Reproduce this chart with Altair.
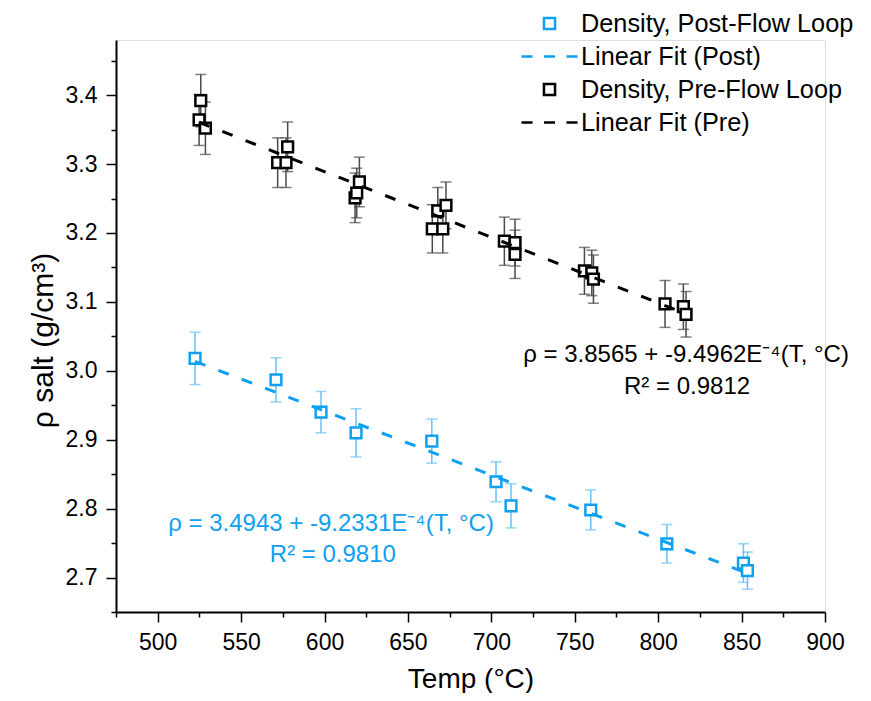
import altair as alt
import pandas as pd

FONT = "Liberation Sans"
BLUE = "#0FA0F2"
BLUE_ERR = "#66C3F7"
BLACK = "#000000"
GRAY_ERR = "#4A4A4A"

# ---- data ----
pre_T = [525.8, 524.8, 528.6, 571.9, 576.9, 577.9, 618.3, 619.3, 620.9, 664.6, 670.9,
         667.9, 672.8, 707.8, 714.2, 714.2, 755.8, 760.2, 761.2, 804.1, 815.1, 816.7]
pre_rho = [3.392, 3.364, 3.352, 3.302, 3.302, 3.325, 3.251, 3.258, 3.274, 3.206, 3.206,
           3.232, 3.240, 3.188, 3.186, 3.169, 3.145, 3.142, 3.133, 3.097, 3.093, 3.082]
pre_err = [0.038, 0.037, 0.038, 0.036, 0.036, 0.036, 0.036, 0.036, 0.036, 0.035, 0.035,
           0.034, 0.034, 0.035, 0.034, 0.035, 0.034, 0.033, 0.035, 0.034, 0.033, 0.033]

post_T = [522.4, 570.9, 597.9, 618.9, 664.3, 702.8, 711.8, 759.6, 805.2, 851.1, 853.5]
post_rho = [3.018, 2.987, 2.940, 2.910, 2.898, 2.839, 2.804, 2.798, 2.749, 2.721, 2.710]
post_err = [0.038, 0.032, 0.030, 0.035, 0.032, 0.029, 0.032, 0.029, 0.028, 0.028, 0.027]

legend_names = ["Density, Post-Flow Loop", "Linear Fit (Post)",
                "Density, Pre-Flow Loop", "Linear Fit (Pre)"]
legend_colors = [BLUE, BLUE, BLACK, BLACK]

ann_text = ["ρ = 3.8565 + -9.4962E⁻⁴(T, °C)", "R² = 0.9812",
            "ρ = 3.4943 + -9.2331E⁻⁴(T, °C)", "R² = 0.9810"]
ann_T = [816.7, 817.3, 603.9, 605.0]
ann_rho = [3.023, 2.977, 2.777, 2.732]
ann_color = [BLACK, BLACK, BLUE, BLUE]

x_major_ticks = [500, 550, 600, 650, 700, 750, 800, 850, 900]
x_minor_ticks = [475, 525, 575, 625, 675, 725, 775, 825, 875]
y_major_ticks = [2.7, 2.8, 2.9, 3.0, 3.1, 3.2, 3.3, 3.4]
y_minor_ticks = [2.65, 2.75, 2.85, 2.95, 3.05, 3.15, 3.25, 3.35, 3.45]

# ---- tables ----
rows = []
for t, r, e in zip(post_T, post_rho, post_err):
    rows.append(dict(T=t, rho=r, lo=r - e, hi=r + e, entry=legend_names[0],
                     fitname=legend_names[1], errcol=BLUE_ERR))
for t, r, e in zip(pre_T, pre_rho, pre_err):
    rows.append(dict(T=t, rho=r, lo=r - e, hi=r + e, entry=legend_names[2],
                     fitname=legend_names[3], errcol=GRAY_ERR))
df = pd.DataFrame(rows)
ann = pd.DataFrame(dict(text=ann_text, T=ann_T, rho=ann_rho, col=ann_color))

xscale = alt.Scale(domain=[475, 900], nice=False, zero=False)
yscale = alt.Scale(domain=[2.65, 3.48], nice=False, zero=False)
cscale = alt.Scale(domain=legend_names, range=legend_colors)

SQ = "M-0.37,-0.37H0.37V0.37H-0.37Z"
DASH = "M-1.87,0H-1.13M-0.37,0H0.37M1.13,0H1.87"
shscale = alt.Scale(domain=legend_names, range=[SQ, DASH, SQ, DASH])

common_axis = dict(grid=False, tickColor="black", tickWidth=1.5, labelFont=FONT,
                   labelColor="black", titleFont=FONT, titleColor="black",
                   titleFontWeight="normal")

x_major = alt.Axis(values=x_major_ticks, orient="bottom", title="Temp (°C)",
                   tickSize=10, domainColor="black", domainWidth=2,
                   labelFontSize=23, labelPadding=9, labelFlush=False,
                   titleFontSize=28, titleBaseline="alphabetic", titleY=75,
                   **common_axis)
y_major = alt.Axis(values=y_major_ticks, orient="left", format=".1f",
                   title="ρ salt (g/cm³)", tickSize=10, domainColor="black",
                   domainWidth=2, labelFontSize=23, labelPadding=9,
                   labelFlush=False, titleFontSize=30, titleX=-58, titleY=300,
                   titleBaseline="bottom", titleAlign="center",
                   **common_axis)
x_minor = alt.Axis(values=x_minor_ticks, orient="bottom", title=None, labels=False,
                   domain=False, tickSize=5, grid=False, tickColor="black", tickWidth=1.5)
y_minor = alt.Axis(values=y_minor_ticks, orient="left", title=None, labels=False,
                   domain=False, tickSize=5, grid=False, tickColor="black", tickWidth=1.5)

legend = alt.Legend(
    orient="none", legendX=417, legendY=-33, title=None, padding=0,
    symbolSize=900, symbolStrokeWidth=2.5,
    labelFont=FONT, labelFontSize=25.3, labelColor="black", labelOffset=15,
    rowPadding=3, labelLimit=400,
)

base = alt.Chart(df)

bars = base.mark_rule(strokeWidth=1.5).encode(
    x=alt.X("T:Q", scale=xscale, axis=x_major),
    y=alt.Y("lo:Q", scale=yscale, axis=y_major),
    y2="hi:Q",
    color=alt.Color("errcol:N", scale=None),
)
cap_lo = base.mark_tick(orient="horizontal", size=11, thickness=1.5).encode(
    x=alt.X("T:Q", scale=xscale, axis=None),
    y=alt.Y("lo:Q", scale=yscale, axis=None),
    color=alt.Color("errcol:N", scale=None),
)
cap_hi = base.mark_tick(orient="horizontal", size=11, thickness=1.5).encode(
    x=alt.X("T:Q", scale=xscale, axis=None),
    y=alt.Y("hi:Q", scale=yscale, axis=None),
    color=alt.Color("errcol:N", scale=None),
)
squares = base.mark_point(size=840, filled=False, fill="white", strokeWidth=2.5,
                          opacity=1).encode(
    x=alt.X("T:Q", scale=xscale, axis=x_minor),
    y=alt.Y("rho:Q", scale=yscale, axis=y_minor),
    stroke=alt.Stroke("entry:N", scale=cscale, legend=legend),
    shape=alt.Shape("entry:N", scale=shscale, legend=legend),
)
fits = base.transform_regression("T", "rho", groupby=["fitname"]).mark_line(
    strokeWidth=3, strokeDash=[11, 14]
).encode(
    x=alt.X("T:Q", scale=xscale, axis=None),
    y=alt.Y("rho:Q", scale=yscale, axis=None),
    stroke=alt.Stroke("fitname:N", scale=cscale, legend=None),
)
labels = alt.Chart(ann).mark_text(font=FONT, fontSize=24, align="center",
                                  baseline="middle").encode(
    x=alt.X("T:Q", scale=xscale, axis=None),
    y=alt.Y("rho:Q", scale=yscale, axis=None),
    text="text:N",
    color=alt.Color("col:N", scale=None),
)

chart = alt.layer(bars, cap_lo, cap_hi, squares, fits, labels).resolve_axis(
    x="independent", y="independent"
).properties(
    width=709, height=572, autosize="none",
    padding={"left": 108, "top": 32, "right": 38, "bottom": 81},
).configure_view(strokeWidth=0).configure(font=FONT)

chart.save("out.html", embed_options={"renderer": "svg", "actions": False})
